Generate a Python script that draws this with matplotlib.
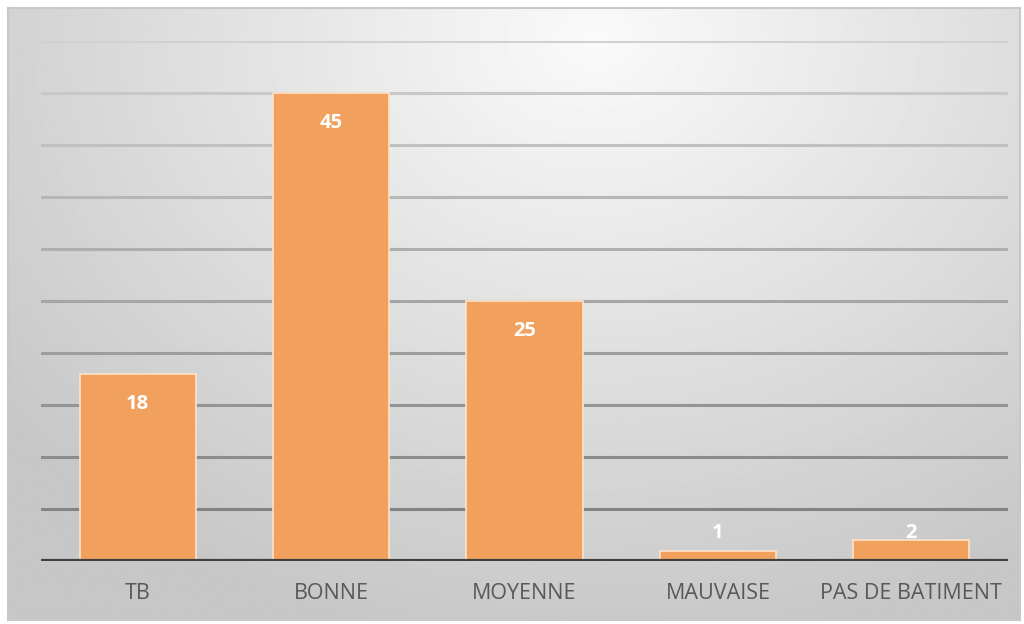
import matplotlib
matplotlib.use("Agg")
import matplotlib.pyplot as plt
import numpy as np

# data
categories = ["TB", "BONNE", "MOYENNE", "MAUVAISE", "PAS DE BATIMENT"]
values = [18, 45, 25, 1, 2]
grid_ticks = [5, 10, 15, 20, 25, 30, 35, 40, 45, 50]

W, H = 1024, 624
fig = plt.figure(figsize=(W / 100, H / 100), dpi=100)
fig.patch.set_facecolor("white")

# chart area background: radial grey gradient, light at top centre
bg = fig.add_axes([8 / W, 4 / H, 1012 / W, 612 / H])
yy, xx = np.mgrid[0:1:300j, 0:1:500j]
r = np.sqrt(((xx - 0.58) / 0.75) ** 2 + ((yy - 0.05) / 1.0) ** 2)
shade = np.clip(0.98 - 0.20 * r, 0.78, 0.98)
bg.imshow(shade, cmap="gray", vmin=0, vmax=1, aspect="auto",
          extent=[0, 1, 1, 0], interpolation="bilinear")
bg.set_xlim(0, 1)
bg.set_ylim(1, 0)
bg.set_xticks([])
bg.set_yticks([])
for s in bg.spines.values():
    s.set_color("#c8c8c8")
    s.set_linewidth(1.5)

# main plot
ax = fig.add_axes([41 / W, 63 / H, 967 / W, 520 / H])
ax.patch.set_alpha(0)
ax.set_xlim(-0.5, len(categories) - 0.5)
ax.set_ylim(0, 50)

# gridlines, darker toward the bottom
for t in grid_ticks:
    g = 0.48 + 0.34 * (t / 50)
    ax.axhline(t, color=(g, g, g), lw=2.2, zorder=1)

x = np.arange(len(categories))
bars = ax.bar(x, values, width=0.6, color="#F2A05E", edgecolor="#fde3c9",
              linewidth=1.2, zorder=2)

ax.axhline(0, color="#3f3f3f", lw=3, zorder=3)

for xi, v in zip(x, values):
    ypos = v - 2.9 if v >= 5 else 2.7
    ax.text(xi, ypos, str(v), ha="center", va="center", color="white",
            fontsize=14.5, fontweight="bold", family="Open Sans", zorder=4)

ax.set_xticks(x)
ax.set_xticklabels(categories, fontsize=15.5, color="#595959", family="Open Sans")
ax.tick_params(axis="x", length=0, pad=16)
ax.set_yticks([])
for s in ax.spines.values():
    s.set_visible(False)

fig.savefig("out.png", dpi=100)
